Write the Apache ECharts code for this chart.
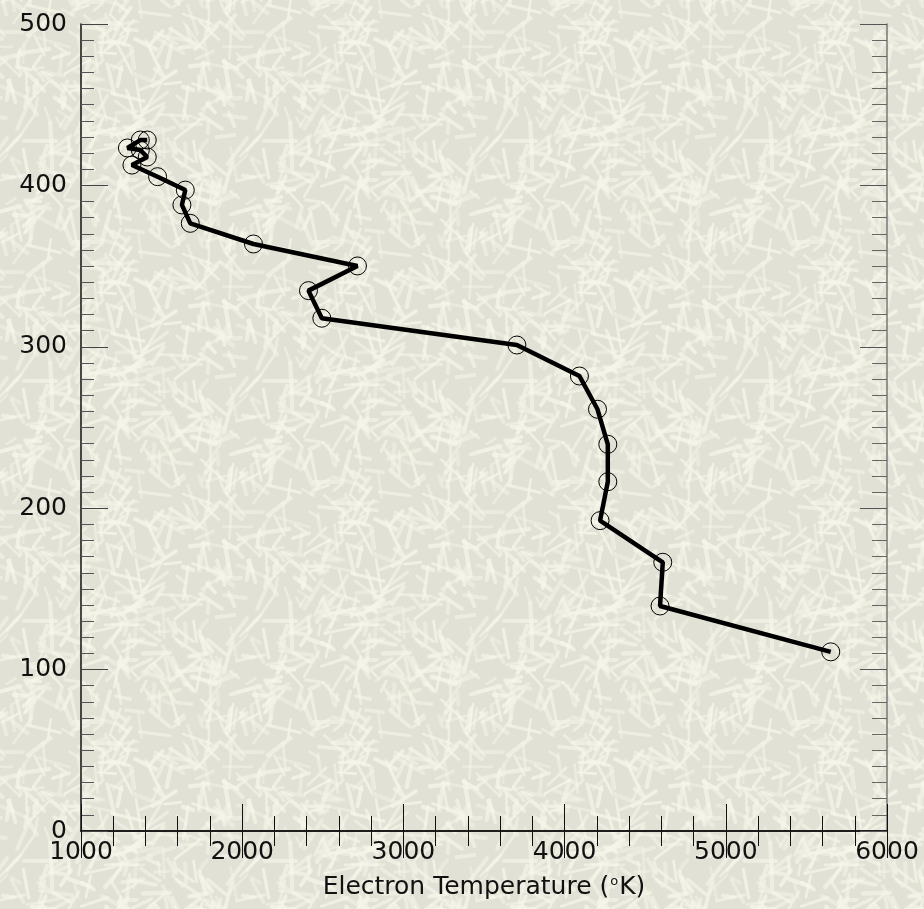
<!DOCTYPE html>
<html>
<head>
<meta charset="utf-8">
<script src="https://cdn.jsdelivr.net/npm/echarts@6/dist/echarts.min.js"></script>
<style>
  html, body { margin: 0; padding: 0; background: #e5e5da; }
  #chart { width: 924px; height: 909px; }
</style>
</head>
<body>
<div id="chart"></div>
<script>
// Electron temperature profile (K) against altitude
const temperature = [5651, 4592, 4609, 4220, 4268, 4268, 4204, 4092, 3704, 2494, 2411, 2715, 2070, 1678, 1626, 1647, 1475, 1316, 1411, 1368, 1288, 1368, 1411];
const altitude    = [111, 139.4, 166.5, 192.3, 216.4, 239.6, 261.3, 281.9, 301.1, 317.7, 334.8, 350.1, 363.7, 376.5, 387.9, 397.1, 405.4, 412.6, 417.6, 421.9, 423.2, 428.1, 428.1];

const xTickLabels = ['1000', '2000', '3000', '4000', '5000', '6000'];
const yTickLabels = ['0', '100', '200', '300', '400', '500'];

// Beige speckled paper tile: soft pale strokes from a fixed-seed generator
function paperTile() {
  const size = 240;
  const c = document.createElement('canvas');
  c.width = size; c.height = size;
  const g = c.getContext('2d');
  g.fillStyle = '#e1e1d5';
  g.fillRect(0, 0, size, size);
  g.filter = 'blur(0.7px)';
  let s = 424242;
  const next = () => { s = (s * 1103515245 + 12345) & 0x7fffffff; return s / 0x7fffffff; };
  g.lineCap = 'round';
  for (let i = 0; i < 380; i++) {
    const x = next() * size, y = next() * size;
    const a = next() * Math.PI * 2, len = 10 + next() * 24;
    g.strokeStyle = 'rgba(246,246,234,' + (0.4 + next() * 0.35).toFixed(2) + ')';
    g.lineWidth = 2.5 + next() * 2;
    for (const dx of [-size, 0, size]) for (const dy of [-size, 0, size]) {
      g.beginPath();
      g.moveTo(x + dx, y + dy);
      g.lineTo(x + dx + Math.cos(a) * len, y + dy + Math.sin(a) * len);
      g.stroke();
    }
  }
  return c;
}

const chart = echarts.init(document.getElementById('chart'), null, { renderer: 'canvas' });
const font = '"DejaVu Sans", "Liberation Sans", Arial, sans-serif';

const xLabelFmt = v => xTickLabels.includes(String(v)) ? String(v) : '';
const yLabelFmt = v => yTickLabels.includes(String(v)) ? String(v) : '';

chart.setOption({
  backgroundColor: { image: paperTile(), repeat: 'repeat' },
  animation: false,
  grid: { left: 81, right: 37, top: 24, bottom: 78, containLabel: false },
  xAxis: [
    {
      type: 'value', position: 'bottom', min: 1000, max: 6000, interval: 1000,
      axisLine: { show: true, lineStyle: { color: '#111', width: 1.5 } },
      axisTick: { show: true, inside: true, length: 27, lineStyle: { color: '#111', width: 1 } },
      minorTick: { show: true, splitNumber: 5, length: 15, lineStyle: { color: '#111', width: 1 } },
      splitLine: { show: false },
      axisLabel: { formatter: xLabelFmt, color: '#111', fontSize: 25, fontFamily: font, margin: 9 },
      name: '{n|Electron Temperature (}{sup|o}{n|K)}', nameLocation: 'middle', nameGap: 44,
      nameTextStyle: {
        color: '#111', fontSize: 25, fontFamily: font,
        rich: { sup: { fontSize: 13, fontFamily: font, color: '#111', verticalAlign: 'top', padding: [0, 1, 11, 1] },
                n: { fontSize: 25, fontFamily: font, color: '#111' } }
      }
    },
    {
      type: 'value', position: 'top', min: 1000, max: 6000, interval: 1000,
      axisLine: { show: true, lineStyle: { color: '#111', width: 1.5 } },
      axisTick: { show: true, inside: true, length: 27, lineStyle: { color: '#111', width: 1 } },
      minorTick: { show: true, splitNumber: 5, length: 15, lineStyle: { color: '#111', width: 1 } },
      splitLine: { show: false },
      axisLabel: { show: false }
    }
  ],
  yAxis: [
    {
      type: 'value', position: 'left', min: 0, max: 500, interval: 100,
      axisLine: { show: true, lineStyle: { color: '#111', width: 1.5 } },
      axisTick: { show: true, inside: true, length: 27, lineStyle: { color: '#444', width: 1 } },
      minorTick: { show: true, splitNumber: 10, length: 13, lineStyle: { color: '#555', width: 1 } },
      splitLine: { show: false },
      axisLabel: { formatter: yLabelFmt, color: '#111', fontSize: 25, fontFamily: font, margin: 14 }
    },
    {
      type: 'value', position: 'right', min: 0, max: 500, interval: 100,
      axisLine: { show: true, lineStyle: { color: '#777', width: 1.5 } },
      axisTick: { show: true, inside: true, length: 27, lineStyle: { color: '#555', width: 1 } },
      minorTick: { show: true, splitNumber: 10, length: 15, lineStyle: { color: '#666', width: 1 } },
      splitLine: { show: false },
      axisLabel: { show: false }
    }
  ],
  series: [{
    type: 'line',
    xAxisIndex: 0, yAxisIndex: 0,
    data: temperature.map((t, i) => [t, altitude[i]]),
    lineStyle: { color: '#000', width: 4.5 },
    symbol: 'circle', symbolSize: 18, showAllSymbol: true,
    itemStyle: { color: 'rgba(0,0,0,0)', borderColor: '#000', borderWidth: 1 },
    z: 3
  }]
});
</script>
</body>
</html>
